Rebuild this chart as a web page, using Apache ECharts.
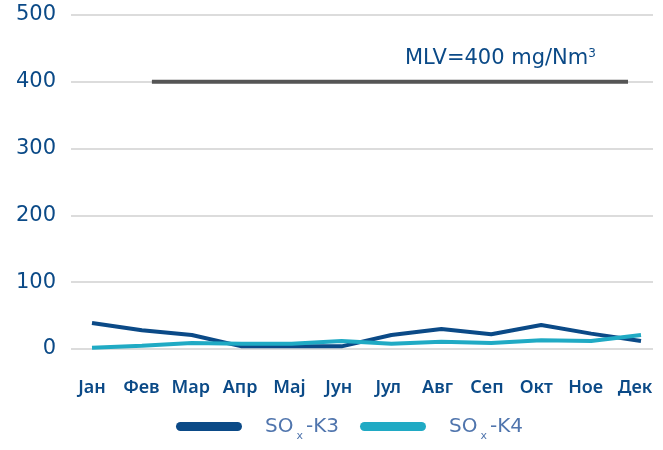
<!DOCTYPE html>
<html>
<head>
<meta charset="utf-8">
<script src="https://cdn.jsdelivr.net/npm/echarts@6/dist/echarts.min.js"></script>
<style>
  html, body { margin: 0; padding: 0; background: #fff; }
  #chart { width: 663px; height: 450px; }
</style>
</head>
<body>
<div id="chart"></div>
<script>
// месеци
const months = ['Јан', 'Фев', 'Мар', 'Апр', 'Мај', 'Јун', 'Јул', 'Авг', 'Сеп', 'Окт', 'Ное', 'Дек'];
const soxK3 = [39, 28, 21, 4, 4, 4, 21, 30, 22, 36, 23, 12];
const soxK4 = [2, 5, 9, 8, 8, 12, 8, 11, 9, 13, 12, 21];
// MLV граница, од - до (индекс на месец)
const mlvValue = 400;
const mlvFrom = 1.2;
const mlvTo = 10.74;
const yTicks = [0, 100, 200, 300, 400, 500];

const blue = '#0b4a87';
const teal = '#20aac4';
const font = '"Noto Sans", sans-serif';
const wide = '"DejaVu Sans", sans-serif';

const chart = echarts.init(document.getElementById('chart'));

const legendFmt = (name) => {
  const parts = name.split('-');
  return '{s|}{a|SO}{b|x}{a|-' + parts[1] + '}';
};

chart.setOption({
  animation: false,
  grid: [
    { left: 71, right: 10, top: 15, bottom: 101 },
    { left: 92, right: 22, top: 15, bottom: 101 },
    { left: 92, right: 28, top: 15, bottom: 101 }
  ],
  xAxis: [
    { gridIndex: 0, type: 'value', min: 0, max: 1, show: false },
    { gridIndex: 1, type: 'category', boundaryGap: false, data: months, show: false },
    { gridIndex: 1, type: 'value', min: 0, max: months.length - 1, show: false },
    {
      gridIndex: 2, type: 'category', boundaryGap: false, data: months,
      axisLine: { show: false }, axisTick: { show: false },
      axisLabel: { color: blue, fontSize: 18, fontWeight: 600, fontFamily: font, margin: 30, interval: 0 }
    }
  ],
  yAxis: [
    {
      gridIndex: 0, type: 'value', min: yTicks[0], max: yTicks[yTicks.length - 1], interval: 100,
      axisLine: { show: false }, axisTick: { show: false },
      axisLabel: { color: blue, fontSize: 21, fontFamily: wide, margin: 15 },
      splitLine: { lineStyle: { color: '#dcdcdc', width: 2 } }
    },
    { gridIndex: 1, type: 'value', min: 0, max: 500, show: false },
    { gridIndex: 2, type: 'value', min: 0, max: 500, show: false }
  ],
  legend: {
    bottom: 3,
    left: 171,
    itemWidth: 66,
    itemHeight: 9,
    itemGap: 21,
    icon: 'path://M4.5,0 H61.5 A4.5,4.5 0 0 1 61.5,9 H4.5 A4.5,4.5 0 0 1 4.5,0 Z',
    data: ['SOx-K3', 'SOx-K4'],
    formatter: legendFmt,
    textStyle: {
      rich: {
        s: { width: 18 },
        a: { fontSize: 20, color: '#5075ad', fontFamily: wide },
        b: { fontSize: 11, color: '#5075ad', fontFamily: wide, padding: [20, 3, 0, 3] }
      }
    }
  },
  series: [
    {
      name: 'MLV', type: 'line', xAxisIndex: 2, yAxisIndex: 1,
      data: [[mlvFrom, mlvValue], [mlvTo, mlvValue]],
      symbol: 'none', lineStyle: { color: '#555555', width: 4 }, z: 3
    },
    {
      name: 'SOx-K3', type: 'line', xAxisIndex: 1, yAxisIndex: 1, data: soxK3,
      symbol: 'none', color: blue, lineStyle: { color: blue, width: 4 }, z: 4
    },
    {
      name: 'SOx-K4', type: 'line', xAxisIndex: 1, yAxisIndex: 1, data: soxK4,
      symbol: 'none', color: teal, lineStyle: { color: teal, width: 4 }, z: 5
    }
  ],
  graphic: [
    {
      type: 'text', left: 405, top: 48,
      style: {
        text: '{m|MLV=400 mg/Nm}{p|3}',
        rich: {
          m: { fontSize: 21, fill: blue, fontFamily: wide },
          p: { fontSize: 12, fill: blue, fontFamily: wide, padding: [0, 0, 10, 0] }
        }
      }
    }
  ]
});
</script>
</body>
</html>
